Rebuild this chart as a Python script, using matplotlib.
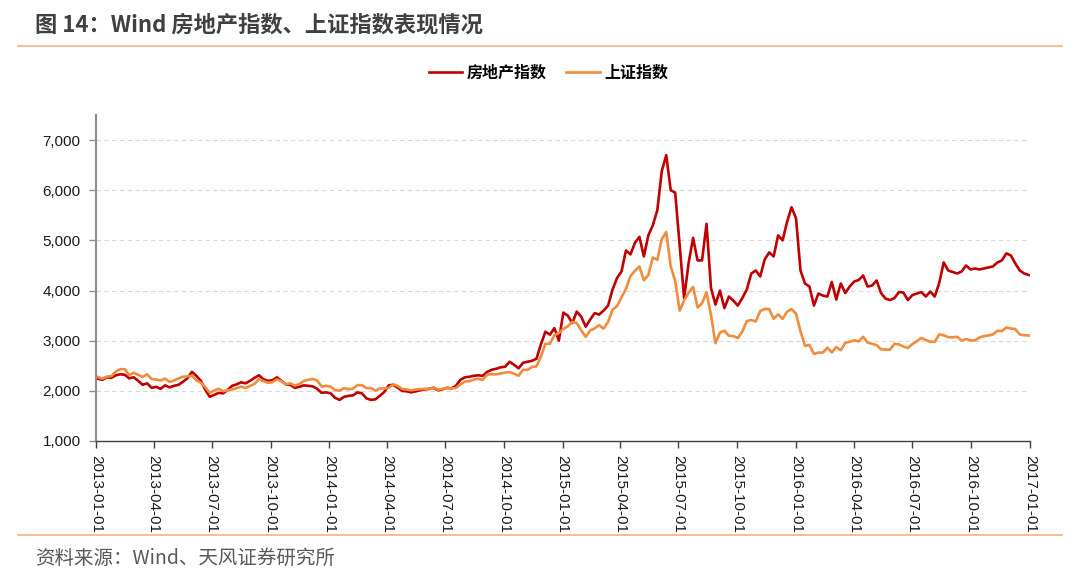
import pandas as pd
import matplotlib
matplotlib.use('Agg')
import matplotlib.pyplot as plt
from matplotlib.lines import Line2D
from matplotlib.ticker import FuncFormatter

plt.rcParams['font.family'] = ['Liberation Sans', 'Noto Sans CJK SC']

# weekly (Friday) readings, one list per year
realestate_2013 = [2240, 2220, 2270, 2260, 2310, 2330, 2320, 2250, 2270, 2200, 2120, 2150, 2060,
                   2080, 2040, 2110, 2070, 2100, 2120, 2180, 2250, 2380, 2300, 2200, 2020, 1880,
                   1920, 1960, 1950, 2020, 2100, 2130, 2170, 2150, 2200, 2260, 2310, 2230, 2200,
                   2210, 2270, 2200, 2130, 2120, 2060, 2080, 2110, 2100, 2090, 2040, 1960, 1970]
realestate_2014 = [1950, 1860, 1820, 1880, 1900, 1910, 1970, 1950, 1850, 1820, 1830, 1900, 1980,
                   2110, 2120, 2060, 2000, 1990, 1970, 1990, 2010, 2030, 2040, 2060, 2010, 2030,
                   2060, 2050, 2100, 2220, 2270, 2280, 2300, 2310, 2300, 2380, 2420, 2440, 2470,
                   2480, 2580, 2520, 2450, 2560, 2580, 2600, 2640, 2930, 3180, 3120, 3250, 3000]
realestate_2015 = [3560, 3500, 3350, 3580, 3480, 3280, 3420, 3550, 3520, 3600, 3700, 4020, 4250,
                   4380, 4800, 4720, 4950, 5070, 4680, 5100, 5300, 5600, 6380, 6700, 6000, 5950,
                   4900, 3850, 4550, 5050, 4600, 4600, 5330, 4050, 3720, 4000, 3650, 3880, 3800,
                   3700, 3850, 4020, 4340, 4400, 4280, 4620, 4760, 4680, 5100, 5000, 5370, 5660]
realestate_2016 = [5440, 4400, 4140, 4080, 3700, 3940, 3900, 3880, 4170, 3820, 4140, 3950, 4080,
                   4180, 4210, 4300, 4080, 4100, 4200, 3950, 3840, 3810, 3850, 3970, 3960, 3810,
                   3910, 3940, 3970, 3880, 3980, 3880, 4150, 4560, 4400, 4370, 4340, 4380, 4500,
                   4420, 4440, 4420, 4440, 4460, 4480, 4560, 4600, 4740, 4700, 4540, 4400, 4340, 4310]

sse_2013 = [2276, 2243, 2284, 2292, 2385, 2432, 2432, 2314, 2359, 2318, 2278, 2328, 2236,
            2225, 2206, 2244, 2177, 2205, 2247, 2283, 2288, 2301, 2210, 2162, 2073, 1960,
            2007, 2039, 1992, 2010, 2029, 2052, 2085, 2057, 2098, 2139, 2236, 2191, 2160,
            2174, 2228, 2193, 2133, 2149, 2106, 2135, 2197, 2220, 2238, 2205, 2084, 2101]
sse_2014 = [2083, 2013, 2004, 2054, 2033, 2044, 2115, 2113, 2056, 2057, 2004, 2047, 2046,
            2058, 2131, 2097, 2036, 2027, 2011, 2026, 2034, 2039, 2029, 2070, 2024, 2036,
            2059, 2047, 2059, 2127, 2185, 2194, 2226, 2240, 2217, 2327, 2331, 2329, 2347,
            2364, 2374, 2341, 2302, 2420, 2418, 2478, 2487, 2683, 2938, 2938, 3108, 3157]
sse_2015 = [3235, 3285, 3376, 3351, 3210, 3076, 3203, 3246, 3310, 3241, 3373, 3617, 3691,
            3864, 4035, 4287, 4394, 4480, 4206, 4308, 4658, 4611, 5023, 5166, 4478, 4193,
            3600, 3800, 3958, 4070, 3664, 3744, 3965, 3508, 2950, 3160, 3200, 3097, 3092,
            3053, 3183, 3391, 3412, 3383, 3590, 3632, 3630, 3436, 3525, 3435, 3579, 3628]
sse_2016 = [3539, 3186, 2900, 2916, 2738, 2763, 2763, 2860, 2767, 2874, 2810, 2955, 2979,
            3009, 2985, 3078, 2960, 2938, 2913, 2827, 2825, 2821, 2938, 2927, 2885, 2854,
            2932, 2989, 3054, 3013, 2979, 2977, 3125, 3108, 3070, 3067, 3078, 3003, 3033,
            3005, 3005, 3064, 3091, 3104, 3125, 3196, 3192, 3262, 3243, 3232, 3123, 3110, 3104]

realestate = realestate_2013 + realestate_2014 + realestate_2015 + realestate_2016
sse = sse_2013 + sse_2014 + sse_2015 + sse_2016
dates_re = pd.date_range('2013-01-04', periods=len(realestate), freq='W-FRI')
dates_sse = pd.date_range('2013-01-04', periods=len(sse), freq='W-FRI')

tick_labels = ['2013-01-01', '2013-04-01', '2013-07-01', '2013-10-01',
               '2014-01-01', '2014-04-01', '2014-07-01', '2014-10-01',
               '2015-01-01', '2015-04-01', '2015-07-01', '2015-10-01',
               '2016-01-01', '2016-04-01', '2016-07-01', '2016-10-01', '2017-01-01']
y_ticks = [1000, 2000, 3000, 4000, 5000, 6000, 7000]

fig = plt.figure(figsize=(10.8, 5.78), dpi=100)
ax = fig.add_axes([96/1080, 1 - 441/578, (1030 - 96)/1080, (441 - 115)/578])

ax.plot(dates_re, realestate, color='#C00000', lw=1.9, label='房地产指数')
ax.plot(dates_sse, sse, color='#F08C3C', lw=1.9, label='上证指数')

tick_dates = pd.to_datetime(tick_labels)
ax.set_xlim(tick_dates[0], tick_dates[-1])
ax.set_xticks(tick_dates)
ax.set_xticklabels(tick_labels, rotation=270, fontsize=11, color='#1a1a1a')
ax.set_ylim(1000, 7500)
ax.set_yticks(y_ticks)
ax.yaxis.set_major_formatter(FuncFormatter(lambda v, p: f'{int(v):,}'))
ax.tick_params(axis='y', labelsize=11, labelcolor='#1a1a1a', length=5, width=1, color='#8c8c8c', pad=6)
ax.tick_params(axis='x', length=5, width=1, color='#404040', pad=5)

for v in y_ticks[1:]:
    ax.axhline(v, color='#d9d9d9', lw=0.8, ls=(0, (4, 3)), zorder=0)

for s in ['top', 'right']:
    ax.spines[s].set_visible(False)
ax.spines['left'].set_color('#8c8c8c')
ax.spines['left'].set_linewidth(1.5)
ax.spines['bottom'].set_color('#404040')
ax.spines['bottom'].set_linewidth(1)

fig.legend(loc='center', bbox_to_anchor=(0.508, 1 - 73/578), ncol=2, frameon=False,
           prop={'family': ['Noto Sans CJK SC'], 'size': 11.5, 'weight': 'bold'},
           handlelength=2.1, columnspacing=1.2, handletextpad=0.3)

# header / footer
fig.text(35/1080, 1 - 25/578, '图 14：Wind 房地产指数、上证指数表现情况', fontsize=16,
         fontweight='bold', color='#404040', va='center', family=['Noto Sans CJK SC'])
fig.add_artist(Line2D([18/1080, 1062/1080], [1 - 46/578] * 2, color='#f4b183', lw=1.2))
fig.add_artist(Line2D([18/1080, 1062/1080], [1 - 535/578] * 2, color='#f4b183', lw=1.2))
fig.text(35/1080, 1 - 558/578, '资料来源：Wind、天风证券研究所', fontsize=14,
         color='#595959', va='center', family=['Noto Sans CJK SC'])

fig.savefig('out.png', dpi=100, facecolor='white')
